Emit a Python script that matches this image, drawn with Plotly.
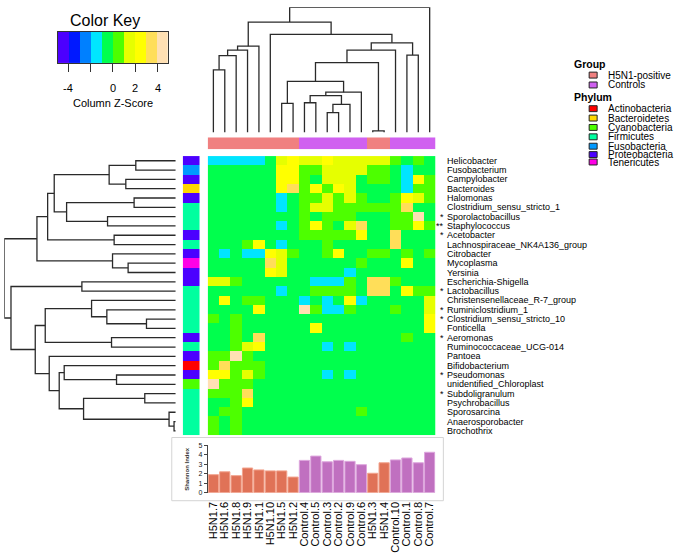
import plotly.graph_objects as go

W, H = 686, 560
FONT = "Liberation Sans, Arial, sans-serif"

# ---------------- data ----------------
columns = ["H5N1.7", "H5N1.6", "H5N1.8", "H5N1.9", "H5N1.1", "H5N1.10", "H5N1.5", "H5N1.2",
           "Control.4", "Control.5", "Control.3", "Control.2", "Control.9", "Control.6",
           "H5N1.3", "H5N1.4", "Control.10", "Control.1", "Control.8", "Control.7"]
col_group = ["H5N1-positive"] * 8 + ["Controls"] * 6 + ["H5N1-positive"] * 2 + ["Controls"] * 4

rows = ["Helicobacter", "Fusobacterium", "Campylobacter", "Bacteroides", "Halomonas",
        "Clostridium_sensu_stricto_1", "Sporolactobacillus", "Staphylococcus", "Acetobacter",
        "Lachnospiraceae_NK4A136_group", "Citrobacter", "Mycoplasma", "Yersinia",
        "Escherichia-Shigella", "Lactobacillus", "Christensenellaceae_R-7_group",
        "Ruminiclostridium_1", "Clostridium_sensu_stricto_10", "Fonticella", "Aeromonas",
        "Ruminococcaceae_UCG-014", "Pantoea", "Bifidobacterium", "Pseudomonas",
        "unidentified_Chloroplast", "Subdoligranulum", "Psychrobacillus", "Sporosarcina",
        "Anaerosporobacter", "Brochothrix"]
row_stars = ["", "", "", "", "", "", "*", "**", "*", "", "", "", "", "", "*", "", "*", "*", "",
             "*", "", "", "", "*", "", "*", "", "", "", ""]
row_phylum = ["Proteobacteria", "Fusobacteria", "Proteobacteria", "Bacteroidetes", "Proteobacteria",
              "Firmicutes", "Firmicutes", "Firmicutes", "Proteobacteria", "Firmicutes",
              "Proteobacteria", "Tenericutes", "Proteobacteria", "Proteobacteria", "Firmicutes",
              "Firmicutes", "Firmicutes", "Firmicutes", "Firmicutes", "Proteobacteria",
              "Firmicutes", "Proteobacteria", "Actinobacteria", "Proteobacteria", "Cyanobacteria",
              "Firmicutes", "Firmicutes", "Firmicutes", "Firmicutes", "Firmicutes"]

shannon = [1.9, 2.2, 1.8, 2.6, 2.4, 2.3, 2.3, 1.65, 3.4, 3.85, 3.25, 3.4, 3.3, 2.95,
           2.05, 3.15, 3.45, 3.65, 3.15, 4.25]

zscore = [
    [-1.5, -1.5, -1.5, -1.5, -1.5, -0.5, 1.5, 2.5, 1.5, 1.5, 2.5, 1.5, 1.5, 1.5, 1.5, 1.5, 0.5, -0.5, 0.5, -0.5],
    [-0.5, -0.5, -0.5, -0.5, -0.5, -0.5, 2.5, 2.5, 0.5, 0.5, 1.5, 1.5, 1.5, 1.5, 0.5, 0.5, -0.5, -1.5, -0.5, -0.5],
    [-0.5, -0.5, -0.5, -0.5, -0.5, -0.5, 2.5, 2.5, 0.5, -0.5, 1.5, 1.5, 1.5, -0.5, 0.5, 0.5, -0.5, -1.5, 2.5, 0.5],
    [-0.5, -0.5, -0.5, -0.5, -0.5, -0.5, 2.5, 3.4, 0.5, 2.5, 0.5, 2.5, 1.5, -0.5, -0.5, -0.5, -0.5, -1.5, 0.5, 0.5],
    [-0.5, -0.5, -0.5, -0.5, -0.5, -0.5, -1.5, -0.5, 0.5, 0.5, 1.5, 0.5, 1.5, 0.5, -0.5, -0.5, 0.5, 2.5, 1.5, 0.5],
    [-0.5, -0.5, -0.5, -0.5, -0.5, -0.5, -1.5, -0.5, 0.5, 1.5, 1.5, 0.5, 0.5, 0.5, 0.5, 0.5, 0.5, 3.4, -0.5, -0.5],
    [-0.5, -0.5, -0.5, -0.5, -0.5, -0.5, -0.5, -0.5, 0.5, -0.5, 0.5, 0.5, 0.5, -0.5, -0.5, -0.5, 0.5, 0.5, 4.4, -0.5],
    [-0.5, -0.5, -0.5, -0.5, -0.5, -0.5, -1.5, -0.5, 0.5, 2.5, 0.5, -0.5, 1.5, 3.4, -0.5, -0.5, 0.5, 0.5, 2.5, 0.5],
    [-0.5, -0.5, -0.5, -0.5, -0.5, -0.5, -0.5, -0.5, 0.5, 0.5, 0.5, 0.5, 0.5, 2.5, -0.5, -0.5, 3.4, -0.5, -0.5, -0.5],
    [-0.5, -0.5, -0.5, 0.5, 2.5, -0.5, -1.5, -0.5, -0.5, -0.5, 0.5, -0.5, -0.5, -0.5, -0.5, -0.5, 3.4, -0.5, -0.5, -0.5],
    [-0.5, -1.5, -0.5, -1.5, -1.5, 2.5, 1.5, 0.5, -0.5, -0.5, 0.5, 2.5, -0.5, -0.5, 0.5, 0.5, -0.5, 0.5, -0.5, 0.5],
    [-0.5, -0.5, -0.5, -0.5, -0.5, 3.4, 1.5, -0.5, -0.5, -0.5, -0.5, -0.5, -0.5, 0.5, -0.5, -0.5, -0.5, 2.5, -0.5, -0.5],
    [-0.5, -0.5, -0.5, -0.5, -0.5, 2.5, 1.5, -0.5, -0.5, -0.5, -0.5, -0.5, -1.5, -0.5, -0.5, -0.5, -0.5, -0.5, -0.5, -0.5],
    [1.5, 1.5, 0.5, -0.5, -0.5, -0.5, -0.5, -0.5, -0.5, -1.5, -1.5, -1.5, 0.5, -0.5, 3.4, 3.4, 0.5, -0.5, -0.5, -0.5],
    [-0.5, -0.5, -0.5, -0.5, -0.5, -0.5, -1.5, -0.5, -0.5, 0.5, 0.5, 0.5, 0.5, -0.5, 3.4, 3.4, -0.5, 2.5, 0.5, 0.5],
    [-0.5, 2.5, -0.5, 0.5, 0.5, -0.5, -0.5, -0.5, -1.5, -0.5, -1.5, -0.5, 2.5, -1.5, -0.5, -0.5, -0.5, -0.5, -0.5, 1.5],
    [-0.5, -0.5, -0.5, -0.5, 2.5, -0.5, -0.5, -0.5, 4.4, 0.5, -1.5, -1.5, 0.5, -0.5, -0.5, -0.5, 0.5, -0.5, -0.5, 1.5],
    [0.5, -0.5, 0.5, -0.5, -0.5, -0.5, -0.5, -0.5, -0.5, -0.5, -0.5, -0.5, -0.5, -0.5, -0.5, -0.5, -0.5, -0.5, -0.5, 2.5],
    [-0.5, -0.5, 0.5, -0.5, -0.5, -0.5, -0.5, -0.5, -0.5, 2.5, -0.5, -0.5, -0.5, -0.5, -0.5, -0.5, -0.5, -0.5, -0.5, 2.5],
    [-0.5, -0.5, 0.5, -0.5, 3.4, -0.5, -0.5, -0.5, -0.5, -0.5, -0.5, -0.5, -0.5, -0.5, -0.5, -0.5, -0.5, 0.5, -0.5, -0.5],
    [-0.5, -0.5, 0.5, 1.5, 2.5, -0.5, -0.5, -0.5, -0.5, -0.5, -1.5, -0.5, -1.5, -0.5, -0.5, -0.5, -0.5, -0.5, -0.5, -0.5],
    [0.5, 0.5, 4.4, 0.5, -0.5, -0.5, -0.5, -0.5, -0.5, -0.5, -0.5, -0.5, -0.5, -0.5, -0.5, -0.5, -0.5, -0.5, -0.5, -0.5],
    [0.5, 3.4, 0.5, 0.5, 0.5, -0.5, -0.5, -0.5, -0.5, -0.5, -0.5, -0.5, -0.5, -0.5, -0.5, -0.5, -0.5, -0.5, -0.5, -0.5],
    [2.5, 2.5, 0.5, 1.5, 0.5, -0.5, -0.5, -0.5, -0.5, -0.5, -1.5, -0.5, -1.5, -0.5, -0.5, -0.5, -0.5, -0.5, -0.5, -0.5],
    [4.4, 0.5, 0.5, 0.5, -0.5, -0.5, -0.5, -0.5, -0.5, -0.5, -0.5, -0.5, -0.5, -0.5, -0.5, -0.5, -0.5, -0.5, -0.5, -0.5],
    [0.5, 0.5, 0.5, 3.4, -0.5, -0.5, -0.5, -0.5, -0.5, -0.5, -0.5, -0.5, -0.5, -0.5, -0.5, -0.5, -0.5, -0.5, -0.5, -0.5],
    [-0.5, -0.5, 0.5, 2.5, -0.5, -0.5, -0.5, -0.5, -0.5, -0.5, -0.5, -0.5, -0.5, -0.5, -0.5, -0.5, -0.5, -0.5, -0.5, -0.5],
    [-0.5, 0.5, 0.5, -0.5, -0.5, -0.5, -0.5, -0.5, -0.5, -0.5, -0.5, -0.5, -0.5, 0.5, -0.5, -0.5, -0.5, -0.5, -0.5, -0.5],
    [0.5, -0.5, 0.5, -0.5, -0.5, -0.5, -0.5, -0.5, -0.5, -0.5, -0.5, -0.5, -0.5, -0.5, -0.5, -0.5, -0.5, -0.5, -0.5, -0.5],
    [0.5, -0.5, 0.5, -0.5, -0.5, -0.5, -0.5, -0.5, -0.5, -0.5, -0.5, -0.5, -0.5, -0.5, -0.5, -0.5, -0.5, -0.5, -0.5, -0.5],
]

# dendrograms: [merge height, left, right]; leaves are column / row indices
col_tree = [126.7,
            [111.7,
             [87.3, [83.3, [77.7, [63.3, 0, 1], 2], 3], 4],
             [99.3, 5,
              [90.7,
               [83.3,
                [70.7,
                 [51.7, [29.3, 6, 7],
                  [40.7, [37.3, [30.0, 8, 9], [28.3, [20.0, 10, 11], 12]], 13]],
                 [1.5, 14, 15]],
                16],
               [78.3, 17, 18]]]],
            19]

row_tree = [171.7,
            [139.0,
             [128.3,
              [121.7,
               [66.7, [40.0, 0, 1], [50.0, 2, 3]],
               [109.3, [41.7, 4, 5], [68.3, 6, 7]]],
              [61.7, 8, 9]],
             [63.3, 10, [47.7, 11, 12]]],
            [165.0,
             [94.0, 13, 14],
             [140.7,
              [130.7,
               [84.3, 15, [69.0, 16, [29.3, 17, 18]]],
               [64.3, 19, 20]],
              [126.7,
               21,
               [116.7,
                [111.7, 22, [59.3, 23, 24]],
                [92.3, [31.0, 25, 26], [6.7, 27, [1.7, 28, 29]]]]]]]]

# ---------------- styles ----------------
key_min, key_max = -4.9, 4.9
key_colors = ["#4C00FF", "#0019FF", "#0080FF", "#00E5FF", "#00FF4D",
              "#4DFF00", "#E6FF00", "#FFFF00", "#FFDE59", "#FFE0B3"]
group_names = ["H5N1-positive", "Controls"]
group_colors = ["#F08080", "#D060F0"]
bar_fill = {"H5N1-positive": "#E07257", "Controls": "#C070C0"}
bar_edge = {"H5N1-positive": "#F2A48E", "Controls": "#DDA6DD"}
phyla = ["Actinobacteria", "Bacteroidetes", "Cyanobacteria", "Firmicutes",
         "Fusobacteria", "Proteobacteria", "Tenericutes"]
phylum_colors = ["#FF0000", "#FFD700", "#4DFF00", "#00FF9F", "#0099FF", "#4C00FF", "#FF00E6"]


def px(xp):
    return xp / W


def py(yp):
    return 1 - yp / H


def step_scale(colors):
    n = len(colors)
    cs = []
    for i, c in enumerate(colors):
        cs.append([i / n, c])
        cs.append([(i + 1) / n, c])
    return cs


def dendro(tree):
    if isinstance(tree, int):
        return float(tree), 0.0, []
    h, left, right = tree
    pl, hl, sl = dendro(left)
    pr, hr, sr = dendro(right)
    seg = sl + sr + [[(pl, hl), (pl, h), (pr, h), (pr, hr)]]
    return (pl + pr) / 2, h, seg


fig = go.Figure()

# main heatmap
fig.add_trace(go.Heatmap(z=zscore, x=list(range(len(columns))), y=list(range(len(rows))),
                         zmin=key_min, zmax=key_max, colorscale=step_scale(key_colors),
                         showscale=False, hoverinfo="skip", xaxis="x", yaxis="y"))

# phylum side bar
fig.add_trace(go.Heatmap(z=[[phyla.index(p)] for p in row_phylum], x=[0], y=list(range(len(rows))),
                         zmin=-0.5, zmax=len(phyla) - 0.5, colorscale=step_scale(phylum_colors),
                         showscale=False, hoverinfo="skip", xaxis="x2", yaxis="y"))

# group top bar
fig.add_trace(go.Heatmap(z=[[group_names.index(g) for g in col_group]], x=list(range(len(columns))), y=[0],
                         zmin=-0.5, zmax=1.5, colorscale=step_scale(group_colors),
                         showscale=False, hoverinfo="skip", xaxis="x", yaxis="y3"))

# top dendrogram
_, _, segs = dendro(col_tree)
dx, dy = [], []
for s in segs:
    for (a, b) in s:
        dx.append(a)
        dy.append(b)
    dx.append(None)
    dy.append(None)
fig.add_trace(go.Scatter(x=dx, y=dy, mode="lines", line=dict(color="#2a2a2a", width=1.3),
                         hoverinfo="skip", xaxis="x", yaxis="y4"))

# left dendrogram
_, _, segs = dendro(row_tree)
lx, ly = [], []
for s in segs:
    for (a, b) in s:
        ly.append(a)
        lx.append(b)
    lx.append(None)
    ly.append(None)
fig.add_trace(go.Scatter(x=lx, y=ly, mode="lines", line=dict(color="#2a2a2a", width=1.3),
                         hoverinfo="skip", xaxis="x5", yaxis="y"))

# color key
nk = len(key_colors)
key_centers = [key_min + (i + 0.5) * (key_max - key_min) / nk for i in range(nk)]
fig.add_trace(go.Heatmap(z=[key_centers], x=key_centers, y=[0], zmin=key_min, zmax=key_max,
                         colorscale=step_scale(key_colors), showscale=False, hoverinfo="skip",
                         xaxis="x6", yaxis="y6"))

# shannon bars
fig.add_trace(go.Bar(x=list(range(len(columns))), y=shannon, width=0.9,
                     marker=dict(color=[bar_fill[g] for g in col_group],
                                 line=dict(color=[bar_edge[g] for g in col_group], width=1)),
                     hoverinfo="skip", xaxis="x7", yaxis="y7"))

hidden = dict(visible=False, showgrid=False, zeroline=False, fixedrange=True)
ncol, nrow = len(columns), len(rows)
hm_x = [px(207), px(435)]

fig.update_layout(
    width=W, height=H, margin=dict(l=0, r=0, t=0, b=0),
    paper_bgcolor="white", plot_bgcolor="white", showlegend=False,
    font=dict(family=FONT, color="black"),
    xaxis=dict(domain=hm_x, range=[-0.5, ncol - 0.5], anchor="y", **hidden),
    yaxis=dict(domain=[py(437), py(154)], range=[nrow - 0.5, -0.5], anchor="x", **hidden),
    xaxis2=dict(domain=[px(182), px(199)], range=[-0.5, 0.5], anchor="y", **hidden),
    yaxis3=dict(domain=[py(147), py(135)], range=[-0.5, 0.5], anchor="x", **hidden),
    yaxis4=dict(domain=[py(130), py(3.3)], range=[0, col_tree[0]], anchor="x", **hidden),
    xaxis5=dict(domain=[px(3.3), px(175)], range=[row_tree[0], 0], anchor="y", **hidden),
    xaxis6=dict(domain=[px(57), px(167)], range=[key_min, key_max], anchor="y6",
                showgrid=False, zeroline=False, showline=True, mirror=True, linecolor="#333",
                linewidth=1, ticks="outside", ticklen=8, tickcolor="#333", tickwidth=1,
                tickvals=[-4, -2, 0, 2, 4], showticklabels=False),
    yaxis6=dict(domain=[py(60), py(28.3)], range=[-0.5, 0.5], anchor="x6",
                showgrid=False, zeroline=False, showline=True, mirror=True, linecolor="#333",
                linewidth=1, ticks="", showticklabels=False),
    xaxis7=dict(domain=hm_x, range=[-0.5, ncol - 0.5], anchor="free", position=py(501),
                showgrid=False, zeroline=False, showline=False, ticks="",
                tickvals=list(range(ncol)), ticktext=columns, tickangle=-90,
                tickfont=dict(size=11, family=FONT, color="black")),
    yaxis7=dict(domain=[py(495), py(446.7)], range=[0, 5], anchor="x7",
                showgrid=False, zeroline=False, showline=True, linecolor="#444", linewidth=1,
                ticks="outside", ticklen=3, tickcolor="#444", tickvals=[0, 1, 2, 3, 4, 5],
                tickfont=dict(size=7, family=FONT, color="#222")),
)

shapes = [
    dict(type="rect", xref="paper", yref="paper", x0=px(171), x1=px(443), y0=py(503), y1=py(439),
         line=dict(color="#D4D4D4", width=1)),
]

annotations = []
# row labels and stars
for i, name in enumerate(rows):
    annotations.append(dict(x=px(446), y=i, xref="paper", yref="y", text=name, showarrow=False,
                            xanchor="left", yanchor="middle", borderpad=0,
                            font=dict(size=9, family=FONT, color="black")))
    if row_stars[i]:
        annotations.append(dict(x=px(445), y=i, xref="paper", yref="y", text=row_stars[i],
                                showarrow=False, xanchor="right", yanchor="middle", borderpad=0,
                                font=dict(size=9, family=FONT, color="black")))

# color key texts
annotations.append(dict(x=px(104), y=py(17), xref="paper", yref="paper", text="Color Key",
                        showarrow=False, xanchor="center", yanchor="middle",
                        font=dict(size=16, family=FONT, color="black")))
for v, t in zip([-4, -2, 0, 2, 4], ["-4", "", "0", "2", "4"]):
    if t:
        annotations.append(dict(x=v, y=py(85), xref="x6", yref="paper", text=t, showarrow=False,
                                xanchor="center", yanchor="middle",
                                font=dict(size=11, family=FONT, color="black")))
annotations.append(dict(x=px(112), y=py(100), xref="paper", yref="paper", text="Column Z-Score",
                        showarrow=False, xanchor="center", yanchor="middle",
                        font=dict(size=11, family=FONT, color="black")))

# shannon label
annotations.append(dict(x=px(186), y=py(471), xref="paper", yref="paper", text="<b>Shannon Index</b>",
                        showarrow=False, textangle=-90, xanchor="center", yanchor="middle",
                        font=dict(size=6, family=FONT, color="#333")))

# legend
def legend_title(text, y):
    annotations.append(dict(x=px(573), y=py(y), xref="paper", yref="paper", text="<b>" + text + "</b>",
                            showarrow=False, xanchor="left", yanchor="middle", borderpad=0,
                            font=dict(size=10.5, family=FONT, color="black")))


def legend_item(text, color, y):
    shapes.append(dict(type="rect", xref="paper", yref="paper", x0=px(589), x1=px(597),
                       y0=py(y + 3), y1=py(y - 3), fillcolor=color, line=dict(color="#222", width=1)))
    annotations.append(dict(x=px(607), y=py(y), xref="paper", yref="paper", text=text,
                            showarrow=False, xanchor="left", yanchor="middle", borderpad=0,
                            font=dict(size=10, family=FONT, color="black")))


legend_title("Group", 61)
for g, c, y in zip(group_names, group_colors, [72, 82]):
    legend_item(g, c, y)
legend_title("Phylum", 94.5)
for p, c, y in zip(phyla, phylum_colors, [106, 115.5, 125, 134.5, 144, 152.5, 160]):
    legend_item(p, c, y)

fig.update_layout(shapes=shapes, annotations=annotations)

fig.write_html("out.html", config={"displayModeBar": False},
               post_script="document.body.style.margin='0px';document.body.style.overflow='hidden';")
